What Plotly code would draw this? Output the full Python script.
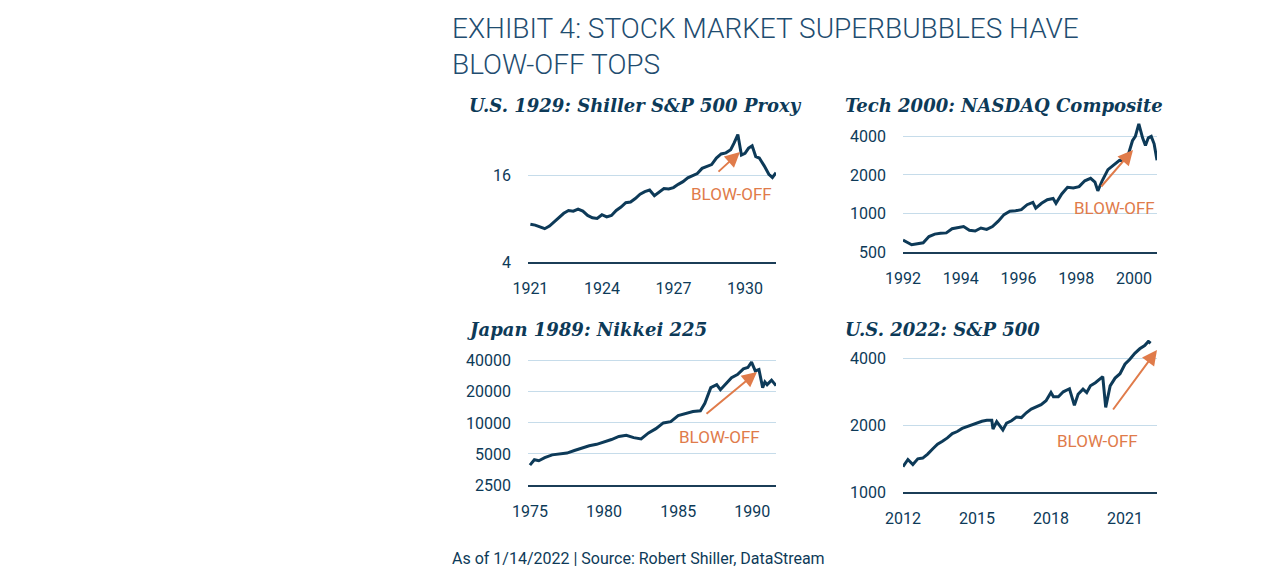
import plotly.graph_objects as go
import math

# ---- data ----
us29_t = [1921.0,1921.2,1921.4,1921.6,1921.8,1922.0,1922.2,1922.4,1922.6,1922.8,1923.0,1923.2,1923.4,1923.6,1923.8,
          1924.0,1924.2,1924.4,1924.6,1924.8,1925.0,1925.2,1925.4,1925.6,1925.8,1926.0,1926.2,1926.4,1926.6,1926.8,
          1927.0,1927.2,1927.4,1927.6,1927.8,1928.0,1928.2,1928.4,1928.6,1928.8,1929.0,1929.2,1929.4,1929.55,1929.7,
          1929.85,1930.0,1930.15,1930.3,1930.45,1930.6,1930.8,1931.0,1931.15,1931.3]
us29_v = [7.3,7.2,7.0,6.8,7.1,7.6,8.2,8.7,9.1,9.0,9.3,9.0,8.4,8.1,8.0,
          8.5,8.2,8.4,9.1,9.6,10.3,10.4,11.0,11.8,12.3,12.6,11.5,12.2,12.9,12.8,
          13.1,13.8,14.4,15.3,15.9,16.4,17.8,18.3,18.9,21.0,22.4,22.8,24.0,26.8,30.5,
          22.0,22.6,24.6,25.5,21.5,21.0,18.6,16.2,15.4,16.6]

nas_t = [1992.0,1992.1,1992.3,1992.5,1992.7,1992.9,1993.1,1993.3,1993.5,1993.7,1993.9,1994.1,1994.3,1994.5,1994.7,
         1994.9,1995.1,1995.3,1995.5,1995.7,1995.9,1996.1,1996.3,1996.5,1996.6,1996.8,1997.0,1997.2,1997.3,1997.5,
         1997.7,1997.9,1998.1,1998.3,1998.5,1998.65,1998.75,1998.9,1999.1,1999.3,1999.5,1999.6,1999.8,1999.95,2000.05,
         2000.17,2000.3,2000.4,2000.5,2000.6,2000.7,2000.8]
nas_v = [620,600,570,580,590,660,690,700,705,760,770,790,740,730,770,
         750,790,870,980,1040,1050,1070,1170,1220,1100,1200,1280,1310,1200,1420,
         1600,1580,1620,1800,1880,1760,1500,1800,2200,2400,2600,2580,2850,3700,4000,
         5000,3900,3400,3900,4000,3500,2600]

nik_t = [1975.0,1975.3,1975.6,1976.0,1976.5,1977.0,1977.5,1978.0,1978.5,1979.0,1979.5,1980.0,1980.5,1981.0,1981.5,
         1982.0,1982.5,1983.0,1983.5,1984.0,1984.5,1985.0,1985.5,1986.0,1986.5,1986.8,1987.2,1987.6,1987.85,1988.2,
         1988.6,1989.0,1989.4,1989.7,1989.95,1990.2,1990.45,1990.7,1990.85,1991.0,1991.3,1991.6]
nik_v = [3900,4400,4300,4600,4900,5000,5100,5400,5700,6000,6200,6500,6900,7400,7600,
         7200,7000,8000,8800,10000,10300,11800,12300,12900,13100,15500,22000,23500,21000,23800,
         27500,29500,33500,34500,38900,32000,33000,22000,25000,23500,26000,23000]

sp_t = [2012.0,2012.2,2012.4,2012.6,2012.8,2013.0,2013.2,2013.4,2013.6,2013.8,2014.0,2014.2,2014.4,2014.6,2014.8,
        2015.0,2015.2,2015.4,2015.6,2015.65,2015.8,2016.05,2016.2,2016.4,2016.6,2016.8,2017.0,2017.2,2017.4,2017.6,
        2017.8,2018.0,2018.1,2018.3,2018.5,2018.75,2018.95,2019.1,2019.3,2019.45,2019.6,2019.8,2020.1,2020.22,2020.4,
        2020.6,2020.8,2021.0,2021.2,2021.4,2021.6,2021.8,2021.95,2022.04]
sp_v = [1300,1400,1330,1410,1420,1480,1560,1640,1690,1750,1830,1870,1930,1970,2000,
        2050,2080,2100,2100,1920,2070,1900,2040,2090,2170,2160,2270,2360,2420,2470,
        2570,2800,2680,2680,2820,2910,2450,2750,2900,2800,3000,3100,3300,2400,3000,
        3250,3400,3750,3950,4200,4400,4550,4750,4660]

navy = "#0d3a58"
orange = "#e07b4a"
grid = "#c6dcea"
W, H = 1275, 583
OFF = 8  # page body margin


def px(x):
    return (x - OFF) / W


def py(y):
    return 1 - (y - OFF) / H


panels = [
    dict(t=us29_t, v=us29_v, x=(528, 776), y=(120, 262), xr=(1920.9, 1931.3), yr=(4, 38.5),
         xt=[1921, 1924, 1927, 1930], yt=[4, 16],
         title="U.S. 1929: Shiller S&P 500 Proxy", tx=467, ty=105,
         arrow=((717, 173), (740, 152)), lab=(731, 194)),
    dict(t=nas_t, v=nas_v, x=(903, 1157), y=(120, 252), xr=(1992.0, 2000.8), yr=(500, 5370),
         xt=[1992, 1994, 1996, 1998, 2000], yt=[500, 1000, 2000, 4000],
         title="Tech 2000: NASDAQ Composite", tx=843, ty=105,
         arrow=((1100, 188), (1133, 150)), lab=(1114, 208)),
    dict(t=nik_t, v=nik_v, x=(528, 776), y=(345, 485), xr=(1974.87, 1991.6), yr=(2500, 57000),
         xt=[1975, 1980, 1985, 1990], yt=[2500, 5000, 10000, 20000, 40000],
         title="Japan 1989: Nikkei 225", tx=465, ty=329,
         arrow=((705, 415), (757, 372)), lab=(719, 437)),
    dict(t=sp_t, v=sp_v, x=(903, 1157), y=(340, 492), xr=(2012.0, 2022.3), yr=(1000, 4820),
         xt=[2012, 2015, 2018, 2021], yt=[1000, 2000, 4000],
         title="U.S. 2022: S&P 500", tx=843, ty=329,
         arrow=((1112, 411), (1157, 350)), lab=(1097, 441)),
]

fig = go.Figure()
ann = []
tickfont = dict(family="Roboto", size=16, color=navy)
for i, p in enumerate(panels, start=1):
    sfx = "" if i == 1 else str(i)
    fig.add_trace(go.Scatter(x=p["t"], y=p["v"], mode="lines", line=dict(color=navy, width=3),
                             xaxis="x" + sfx, yaxis="y" + sfx, showlegend=False, hoverinfo="skip"))
    fig.layout["xaxis" + sfx] = dict(domain=[px(p["x"][0]), px(p["x"][1])], range=list(p["xr"]),
                                     anchor="y" + sfx, tickvals=p["xt"], showgrid=False, zeroline=False,
                                     showline=True, linecolor="#1b3d57", linewidth=1.5, automargin=False,
                                     tickfont=tickfont, ticks="", ticklabelstandoff=11)
    fig.layout["yaxis" + sfx] = dict(domain=[py(p["y"][1]), py(p["y"][0])], type="log",
                                     range=[math.log10(p["yr"][0]), math.log10(p["yr"][1])],
                                     anchor="x" + sfx, tickvals=p["yt"], ticktext=[str(v) for v in p["yt"]],
                                     showgrid=True, gridcolor=grid, gridwidth=1, zeroline=False, automargin=False,
                                     showline=False, tickfont=tickfont, ticks="", ticklabelstandoff=16)
    ann.append(dict(x=px(p["tx"]), y=py(p["ty"]), xref="paper", yref="paper", xanchor="left",
                    yanchor="middle", showarrow=False, text="<b><i>" + p["title"] + "</i></b>",
                    font=dict(family="DejaVu Serif", size=18, color=navy)))
    (x0, y0), (x1, y1) = p["arrow"]
    ann.append(dict(x=px(x1), y=py(y1), xref="paper", yref="paper", ax=x0 - x1, ay=y0 - y1,
                    axref="pixel", ayref="pixel", showarrow=True, arrowhead=2, arrowsize=1.5,
                    arrowwidth=2, arrowcolor=orange, text=""))
    ann.append(dict(x=px(p["lab"][0]), y=py(p["lab"][1]), xref="paper", yref="paper",
                    xanchor="center", yanchor="middle",
                    showarrow=False, text="BLOW-OFF", font=dict(family="Roboto", size=17, color=orange)))

ann.append(dict(x=px(450), y=py(10), xref="paper", yref="paper", xanchor="left", yanchor="top",
                showarrow=False, align="left",
                text="EXHIBIT 4: STOCK MARKET SUPERBUBBLES HAVE<br>BLOW-OFF TOPS",
                font=dict(family="Roboto", size=28, color="#1f4d70", weight=300)))
ann.append(dict(x=px(450), y=py(558), xref="paper", yref="paper", xanchor="left", yanchor="middle",
                showarrow=False, text="As of 1/14/2022 | Source: Robert Shiller, DataStream",
                font=dict(family="Roboto", size=16, color=navy)))

fig.update_layout(width=W, height=H, margin=dict(l=0, r=0, t=0, b=0, pad=0), paper_bgcolor="white",
                  plot_bgcolor="white", annotations=ann)
fig.write_html("out.html")
